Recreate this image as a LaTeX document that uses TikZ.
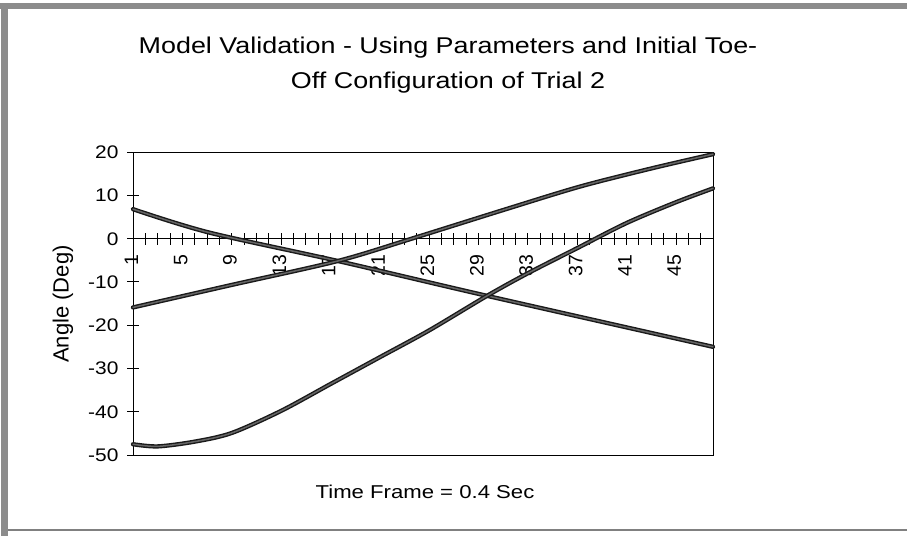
\documentclass[tikz,border=0pt]{standalone}
\usepackage{fontspec}
\setmainfont{Liberation Sans}
\usepackage{tikz}
\tikzset{
	curve/.style={line width=1.4pt, black!90, double=black!60, double distance=1.5pt, line cap=round, line join=round},
	ticklbl/.style={inner sep=0pt, text height=13pt, text depth=0pt, xscale=1.15, font=\fontsize{18.2}{20}\selectfont},
	catlbl/.style={inner sep=0pt, text height=14pt, text depth=0pt, rotate=90, anchor=east, font=\fontsize{19.5}{22}\selectfont},
	ttl/.style={anchor=base, xscale=1.18, font=\fontsize{22.8}{27}\selectfont}
}

\begin{document}
\begin{tikzpicture}[x=1pt, y=-1pt, line width=0.9pt]
\useasboundingbox (0,0) rectangle (907,536);
\fill[black!45] (0,3) rectangle (907,9);
\fill[black!45] (1,3) rectangle (8,536);
\draw[black!50, line width=1.5pt] (8,530) -- (907,530);

\node[ttl] (titleA) at (448,53.5) {Model Validation - Using Parameters and Initial Toe-};
\node[ttl] (titleB) at (448,88.5) {Off Configuration of Trial 2};
\node[anchor=base, xscale=1.19, font=\fontsize{18.6}{22}\selectfont] (xtitle) at (425,498.5) {Time Frame = 0.4 Sec};
\node[rotate=90, inner sep=0pt, font=\fontsize{22}{26}\selectfont] (ytitle) at (63,304) {Angle (Deg)};

\begin{scope}[shift={(133,238.6)}, x=12.34pt, y=4.329pt]
\draw (0,-50) rectangle (47,20);
\draw (0,0) -- (47,0);
\foreach \v in {20,10,...,-50} {
	\draw (-0.486,\v) -- (0.486,\v);
	\node[ticklbl, anchor=east] (ylab\v) at (-1.135,\v) {\v};
	};
\foreach \n in {1,...,48} {
	\draw (\n-1,-1.386) -- (\n-1,1.386);
	};
\foreach \n in {1,5,...,45} {
	\node[catlbl] (xlab\n) at (\n-1.16,-3.56) {\n};
	};

\draw[curve] plot[smooth] coordinates {(0,6.8) (6.1,1.45) (16.6,-5.17) (28.66,-13.2) (47,-25)};
\draw[curve] plot[smooth] coordinates {(0,-15.9) (8,-10.7) (16.6,-5.17) (22.6,0) (30,6.6) (36.2,12) (42,16.2) (47,19.5)};
\draw[curve] plot[smooth] coordinates {(0,-47.5) (2,-48) (5,-46.9) (8,-44.9) (12,-39.8) (16,-33.6) (20,-27.4) (24,-21.2) (28.7,-13.2) (32,-8) (36,-2.2) (40,3.6) (44,8.4) (47,11.6)};
\end{scope}
\end{tikzpicture}
\end{document}
